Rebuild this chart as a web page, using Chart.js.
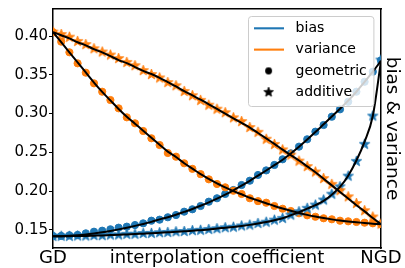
<!DOCTYPE html>
<html>
<head>
<meta charset="utf-8">
<script src="https://cdn.jsdelivr.net/npm/chart.js@4.4.1/dist/chart.umd.min.js"></script>
<style>
  html, body { margin: 0; padding: 0; background: #fff; }
</style>
</head>
<body>
<canvas id="chart" width="405" height="268"></canvas>
<script>
// interpolation coefficient (0 = GD, 1 = NGD)
const coef = [0, 0.025, 0.05, 0.075, 0.1, 0.125, 0.15, 0.175, 0.2, 0.225,
  0.25, 0.275, 0.3, 0.325, 0.35, 0.375, 0.4, 0.425, 0.45, 0.475,
  0.5, 0.525, 0.55, 0.575, 0.6, 0.625, 0.65, 0.675, 0.7, 0.725,
  0.75, 0.775, 0.8, 0.825, 0.85, 0.875, 0.9, 0.925, 0.95, 0.975, 1];

// markers (empirical)
const biasGeometric = [0.1423, 0.1423, 0.1432, 0.1436, 0.1457, 0.1478, 0.1491, 0.1509, 0.153, 0.1543,
  0.1564, 0.1586, 0.162, 0.1633, 0.1664, 0.1693, 0.1736, 0.1767, 0.1809, 0.1865,
  0.1909, 0.1964, 0.2015, 0.208, 0.2135, 0.2209, 0.2268, 0.2338, 0.2411, 0.2488,
  0.2574, 0.2669, 0.2767, 0.2853, 0.296, 0.3055, 0.3153, 0.3282, 0.341, 0.354, 0.3685];
const biasAdditive = [0.1418, 0.1421, 0.1419, 0.1424, 0.1423, 0.1429, 0.1428, 0.1436, 0.1437, 0.1445,
  0.1446, 0.1455, 0.1457, 0.1466, 0.1469, 0.1478, 0.1481, 0.1492, 0.1497, 0.1508,
  0.1517, 0.153, 0.1537, 0.1553, 0.1564, 0.1585, 0.1601, 0.1628, 0.165, 0.1693,
  0.1736, 0.178, 0.1822, 0.1887, 0.1962, 0.2058, 0.2195, 0.2385, 0.2605, 0.2969, 0.369];
const varianceGeometric = [0.405, 0.3927, 0.379, 0.3648, 0.3527, 0.339, 0.3282, 0.3175, 0.3068, 0.2952,
  0.2875, 0.2776, 0.2682, 0.2595, 0.2492, 0.2445, 0.236, 0.2288, 0.222, 0.2153,
  0.2093, 0.205, 0.2006, 0.1964, 0.1909, 0.1872, 0.1852, 0.1809, 0.1774, 0.1745,
  0.1715, 0.1689, 0.1671, 0.1651, 0.1638, 0.162, 0.1612, 0.1603, 0.1594, 0.1586, 0.1577];
const varianceAdditive = [0.405, 0.402, 0.3985, 0.393, 0.389, 0.3836, 0.3794, 0.3755, 0.371, 0.366,
  0.3618, 0.3555, 0.3504, 0.346, 0.34, 0.3359, 0.3286, 0.3231, 0.3171, 0.3109,
  0.3057, 0.3012, 0.2946, 0.2898, 0.2821, 0.2759, 0.267, 0.2603, 0.2533, 0.2466,
  0.2388, 0.2318, 0.2248, 0.2163, 0.2088, 0.2007, 0.1928, 0.1842, 0.1749, 0.1668, 0.1577];

// black curves (theory)
const biasGeometricCurve = [0.142, 0.1421, 0.1425, 0.1432, 0.1442, 0.1455, 0.147, 0.1488, 0.1508, 0.153,
  0.1553, 0.1578, 0.1605, 0.1637, 0.1665, 0.1697, 0.1733, 0.177, 0.1812, 0.1857,
  0.1905, 0.1957, 0.2012, 0.2072, 0.2134, 0.2201, 0.2267, 0.2335, 0.2405, 0.2485,
  0.2572, 0.2665, 0.2762, 0.2862, 0.2962, 0.3063, 0.3167, 0.3282, 0.3408, 0.354, 0.368];
const biasAdditiveCurve = [0.142, 0.142, 0.1421, 0.1422, 0.1424, 0.1427, 0.143, 0.1434, 0.1438, 0.1443,
  0.1448, 0.1453, 0.1458, 0.1464, 0.147, 0.1476, 0.1483, 0.149, 0.1498, 0.1506,
  0.1519, 0.1529, 0.154, 0.1552, 0.1566, 0.1583, 0.1603, 0.1626, 0.1652, 0.169,
  0.173, 0.1775, 0.182, 0.1875, 0.1955, 0.2055, 0.22, 0.2395, 0.264, 0.297, 0.368];
const varianceGeometricCurve = [0.405, 0.392, 0.379, 0.366, 0.353, 0.34, 0.328, 0.317, 0.306, 0.296,
  0.287, 0.278, 0.269, 0.26, 0.251, 0.244, 0.236, 0.229, 0.222, 0.216,
  0.21, 0.205, 0.2, 0.196, 0.1915, 0.188, 0.1845, 0.181, 0.1778, 0.1748,
  0.172, 0.1695, 0.1673, 0.1654, 0.1637, 0.1622, 0.161, 0.16, 0.159, 0.158, 0.1575];
const varianceAdditiveCurve = [0.405, 0.401, 0.397, 0.392, 0.388, 0.383, 0.379, 0.374, 0.369, 0.365,
  0.36, 0.355, 0.351, 0.346, 0.3405, 0.335, 0.329, 0.3235, 0.318, 0.312,
  0.306, 0.3, 0.294, 0.288, 0.282, 0.275, 0.268, 0.261, 0.2535, 0.2465,
  0.2395, 0.232, 0.2245, 0.216, 0.2075, 0.199, 0.1905, 0.182, 0.174, 0.1655, 0.1575];

const yTicks = [0.15, 0.2, 0.25, 0.3, 0.35, 0.4];
const xTicks = [0, 1];
const xTickText = ['GD', 'NGD'];
const legendText = ['bias', 'variance', 'geometric', 'additive'];

const BLUE = '#1f77b4';
const ORANGE = '#ff7f0e';
Chart.defaults.font.family = "'DejaVu Sans', sans-serif";
Chart.defaults.color = '#000';

function starImage(color, r) {
  const c = document.createElement('canvas');
  const s = Math.ceil(2 * r + 2);
  c.width = s; c.height = s;
  const g = c.getContext('2d');
  g.beginPath();
  for (let k = 0; k < 10; k++) {
    const rr = k % 2 ? r * 0.42 : r;
    const a = -Math.PI / 2 + k * Math.PI / 5;
    g.lineTo(s / 2 + rr * Math.cos(a), s / 2 + rr * Math.sin(a));
  }
  g.closePath();
  g.fillStyle = color;
  g.strokeStyle = color;
  g.lineWidth = 0.8;
  g.fill();
  g.stroke();
  return c;
}
function dotImage(color, r) {
  const c = document.createElement('canvas');
  const s = Math.ceil(2 * r + 2);
  c.width = s; c.height = s;
  const g = c.getContext('2d');
  g.beginPath();
  g.arc(s / 2, s / 2, r, 0, Math.PI * 2);
  g.fillStyle = color;
  g.fill();
  return c;
}
function lineImage(color, w) {
  const c = document.createElement('canvas');
  c.width = w; c.height = 4;
  const g = c.getContext('2d');
  g.fillStyle = color;
  g.fillRect(0, 1, w, 2);
  return c;
}

const blueStar = starImage(BLUE, 5.5);
const orangeStar = starImage(ORANGE, 5.5);
const legendIcons = [lineImage(BLUE, 30), lineImage(ORANGE, 30), dotImage('#000', 3.4), starImage('#000', 5)];

const pts = (arr) => coef.map((t, i) => ({x: t, y: arr[i]}));

function curve(arr) {
  return {data: pts(arr), borderColor: '#000', borderWidth: 2, pointRadius: 0,
    cubicInterpolationMode: 'monotone', clip: 0};
}
function markers(arr, color, style) {
  return {data: pts(arr), showLine: false, pointStyle: style, pointRadius: 3.6,
    backgroundColor: color, borderColor: color, borderWidth: 1, clip: 0};
}

const legendBox = {
  id: 'legendBox',
  afterLayout(chart) {
    const ca = chart.chartArea, lg = chart.legend;
    const w = 125.4, h = 90;
    const bx = ca.right - 7.3 - w, by = ca.top + 7;
    chart.$box = {bx, by, w, h};
    lg.left = bx - 7; lg.top = by - 2;
    lg.right = ca.right; lg.bottom = ca.bottom;
  },
  afterDatasetsDraw(chart) {
    const {bx, by, w, h} = chart.$box;
    const ctx = chart.ctx, r = 3;
    const x0 = Math.round(bx) + 0.5, y0 = Math.round(by) + 0.5;
    ctx.save();
    ctx.beginPath();
    ctx.moveTo(x0 + r, y0);
    ctx.arcTo(x0 + w, y0, x0 + w, y0 + h, r);
    ctx.arcTo(x0 + w, y0 + h, x0, y0 + h, r);
    ctx.arcTo(x0, y0 + h, x0, y0, r);
    ctx.arcTo(x0, y0, x0 + w, y0, r);
    ctx.closePath();
    ctx.fillStyle = 'rgba(255,255,255,0.8)';
    ctx.fill();
    ctx.strokeStyle = '#cccccc';
    ctx.lineWidth = 1;
    ctx.stroke();
    ctx.restore();
    chart.legend.draw();
  }
};

new Chart(document.getElementById('chart'), {
  type: 'line',
  data: {
    datasets: [
      curve(biasGeometricCurve),
      curve(biasAdditiveCurve),
      curve(varianceGeometricCurve),
      curve(varianceAdditiveCurve),
      markers(varianceAdditive, ORANGE, orangeStar),
      markers(biasAdditive, BLUE, blueStar),
      markers(varianceGeometric, ORANGE, 'circle'),
      markers(biasGeometric, BLUE, 'circle'),
    ],
  },
  options: {
    responsive: false,
    animation: false,
    layout: {padding: {left: 0, right: 0, top: 9, bottom: 0}},
    plugins: {
      tooltip: {enabled: false},
      legend: {
        position: 'chartArea',
        align: 'start',
        labels: {
          usePointStyle: true,
          pointStyleWidth: 40,
          padding: 7.3,
          font: {size: 14},
          generateLabels: () => legendText.map((text, i) => ({
            text, pointStyle: legendIcons[i], fontColor: '#000',
            fillStyle: '#000', strokeStyle: '#000', lineWidth: 0, hidden: false,
          })),
        },
      },
    },
    scales: {
      x: {
        type: 'linear', position: 'bottom', min: 0, max: 1,
        afterBuildTicks: (s) => { s.ticks = xTicks.map((v) => ({value: v})); },
        afterFit: (s) => { s.height = 20; s.paddingLeft = 0; s.paddingRight = 0; },
        ticks: {autoSkip: false, maxRotation: 0, minRotation: 0, padding: 0,
          font: {size: 18}, callback: (v) => xTickText[xTicks.indexOf(v)]},
        grid: {display: false, drawTicks: false},
        border: {display: true, color: '#000', width: 1.5},
        title: {display: true, text: 'interpolation coefficient', font: {size: 18},
          padding: {top: 0, bottom: -1.5}},
      },
      x2: {
        type: 'linear', position: 'top', display: true,
        afterFit: (s) => { s.height = 0; s.paddingLeft = 0; s.paddingRight = 0; },
        ticks: {display: false},
        grid: {display: false, drawTicks: false},
        border: {display: true, color: '#000', width: 1.5},
      },
      y: {
        type: 'linear', position: 'left', min: 0.1268, max: 0.4348,
        afterBuildTicks: (s) => { s.ticks = yTicks.map((v) => ({value: v})); },
        afterFit: (s) => { s.width = 53; s.paddingTop = 0; s.paddingBottom = 0; },
        ticks: {padding: 1, font: {size: 15}, callback: (v) => v.toFixed(2)},
        grid: {drawOnChartArea: false, drawTicks: true, tickLength: 4, color: '#000', lineWidth: 1},
        border: {display: true, color: '#000', width: 1.5},
      },
      y2: {
        type: 'linear', position: 'right', display: true,
        afterFit: (s) => { s.width = 24; s.paddingTop = 0; s.paddingBottom = 0; },
        ticks: {display: false},
        grid: {display: false, drawTicks: false},
        border: {display: true, color: '#000', width: 1.5},
        title: {display: true, text: 'bias & variance', font: {size: 18.5},
          padding: {top: 2, bottom: 0}},
      },
    },
  },
  plugins: [legendBox],
});
</script>
</body>
</html>
